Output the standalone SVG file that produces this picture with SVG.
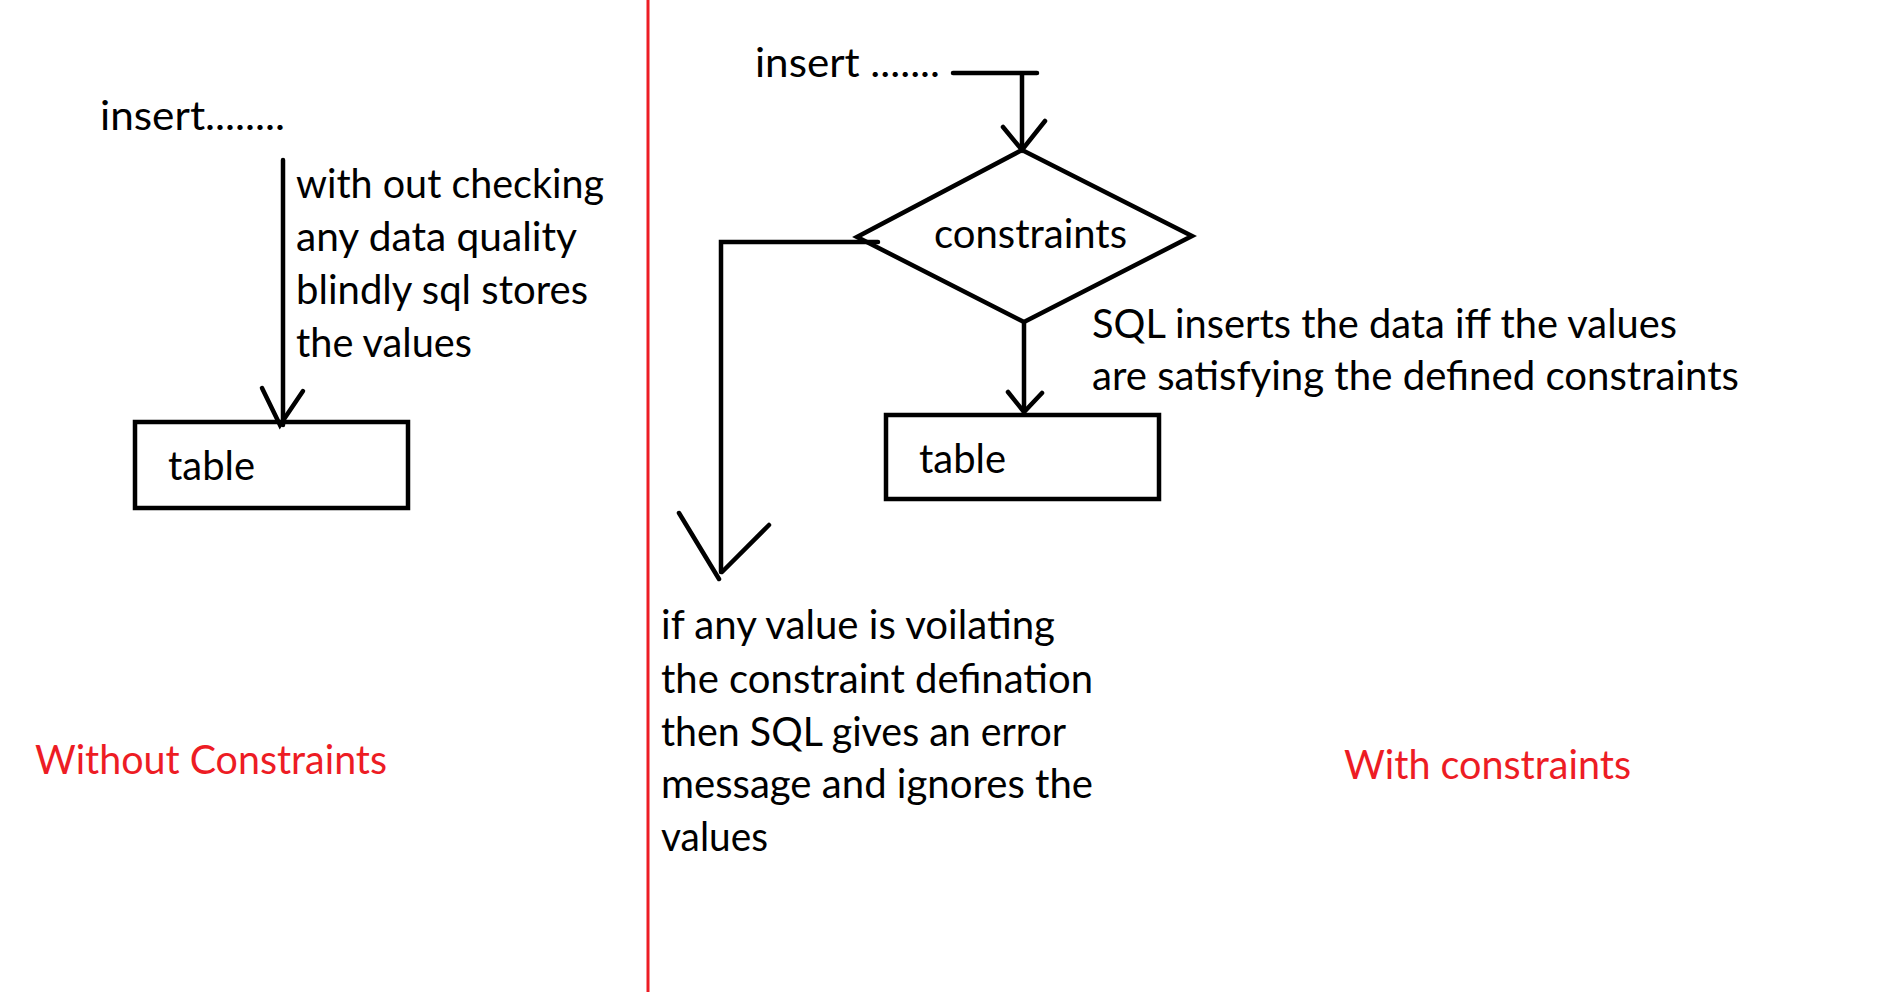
<svg xmlns="http://www.w3.org/2000/svg" width="1892" height="992" viewBox="0 0 1892 992">
<style>
.t{font-family:Lato,"Open Sans","Liberation Sans",sans-serif;font-size:41px;fill:#000}
.r{fill:#ed1c24}
.s{fill:none;stroke:#000;stroke-width:4.5;stroke-linecap:round;stroke-linejoin:miter}
.b{fill:#fff;stroke:#000;stroke-width:4.5}
</style>
<rect x="0" y="0" width="1892" height="992" fill="#fff"/>
<g id="divider"><line x1="648" y1="0" x2="648" y2="992" stroke="#ed1c24" stroke-width="3"/></g>

<g id="left-insert"><text class="t" x="100" y="130" textLength="185" lengthAdjust="spacingAndGlyphs">insert........</text></g>
<g id="left-note">
<text class="t" x="296" y="198" textLength="308" lengthAdjust="spacingAndGlyphs">with out checking</text>
<text class="t" x="296" y="251" textLength="281" lengthAdjust="spacingAndGlyphs">any data quality</text>
<text class="t" x="296" y="304" textLength="292" lengthAdjust="spacingAndGlyphs">blindly sql stores</text>
<text class="t" x="296" y="357" textLength="176" lengthAdjust="spacingAndGlyphs">the values</text>
</g>
<g id="left-table">
<rect class="b" x="135" y="422" width="273" height="86"/>
<text class="t" x="168" y="480" textLength="87" lengthAdjust="spacingAndGlyphs">table</text>
</g>
<g id="left-label"><text class="t r" x="35" y="774" textLength="352" lengthAdjust="spacingAndGlyphs">Without Constraints</text></g>

<g id="right-insert"><text class="t" x="755" y="77" textLength="185" lengthAdjust="spacingAndGlyphs">insert .......</text></g>
<g id="constraints">
<polygon class="s" points="1022,150 1192,236 1024,322 857,237"/>
<text class="t" x="934" y="248" textLength="193" lengthAdjust="spacingAndGlyphs">constraints</text>
</g>
<g id="right-note">
<text class="t" x="1092" y="338" textLength="585" lengthAdjust="spacingAndGlyphs">SQL inserts the data iff the values</text>
<text class="t" x="1092" y="390" textLength="647" lengthAdjust="spacingAndGlyphs">are satisfying the defined constraints</text>
</g>
<g id="right-table">
<rect class="b" x="886" y="415" width="273" height="84"/>
<text class="t" x="919" y="473" textLength="87" lengthAdjust="spacingAndGlyphs">table</text>
</g>
<g id="error-note">
<text class="t" x="661" y="639" textLength="394" lengthAdjust="spacingAndGlyphs">if any value is voilating</text>
<text class="t" x="661" y="693" textLength="432" lengthAdjust="spacingAndGlyphs">the constraint defination</text>
<text class="t" x="661" y="746" textLength="405" lengthAdjust="spacingAndGlyphs">then SQL gives an error</text>
<text class="t" x="661" y="798" textLength="432" lengthAdjust="spacingAndGlyphs">message and ignores the</text>
<text class="t" x="661" y="851" textLength="107" lengthAdjust="spacingAndGlyphs">values</text>
</g>
<g id="right-label"><text class="t r" x="1344" y="779" textLength="287" lengthAdjust="spacingAndGlyphs">With constraints</text></g>

<g id="connectors">
<path class="s" d="M283,160 L283,425"/>
<path class="s" d="M262,388 L280,425 L303,391"/>
<path class="s" d="M953,73 L1037,73 M1022,73 L1022,150"/>
<path class="s" d="M1003,127 L1022,150 L1045,121"/>
<path class="s" d="M1024,322 L1024,412"/>
<path class="s" d="M1008,392 L1024,412 L1042,393"/>
<path class="s" d="M878,242 L721,242 L721,572"/>
<path class="s" d="M769,525 L722,572 M679,513 L719,579"/>
</g>
</svg>
